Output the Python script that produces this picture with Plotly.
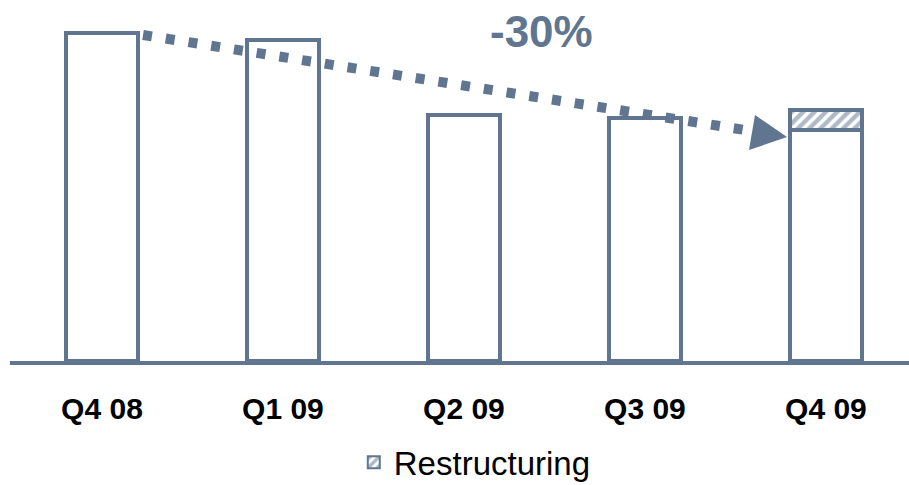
import plotly.graph_objects as go

# Quarterly values (index, Q4 08 = 100)
quarters = ["Q4 08", "Q1 09", "Q2 09", "Q3 09", "Q4 09"]
base_values = [100.0, 97.9, 75.0, 74.0, 70.4]
restructuring_values = [0, 0, 0, 0, 6.1]
change_label = "-30%"

SLATE = "#5f7590"
FONT = "Liberation Sans, Arial, sans-serif"

x = list(range(len(quarters)))

fig = go.Figure()
fig.add_trace(go.Bar(
    x=x, y=base_values, width=0.4, showlegend=False,
    marker=dict(color="white", line=dict(color=SLATE, width=4)),
))
fig.add_trace(go.Bar(
    x=x, y=restructuring_values, width=0.4, name="Restructuring",
    marker=dict(
        color="white", line=dict(color=SLATE, width=4),
        pattern=dict(shape="/", fgcolor=SLATE, bgcolor="white", size=8, solidity=0.55),
    ),
))

# Dotted trend arrow from the first quarter to the last
start = (0.227, base_values[0] - 0.6)
end = (3.59, 70.1)
fig.add_shape(type="line", x0=start[0], y0=start[1], x1=end[0], y1=end[1],
              line=dict(color=SLATE, width=10, dash="9px,14px"), layer="above")
fig.add_shape(type="path", layer="above", fillcolor=SLATE, line=dict(width=0),
              path="M 3.608,75.0 L 3.785,68.3 L 3.575,64.3 Z")

fig.add_annotation(x=2.43, y=100.6, text=f"<b>{change_label}</b>", showarrow=False,
                   font=dict(size=44, color=SLATE, family=FONT))

fig.update_layout(
    width=909, height=485,
    margin=dict(l=10, r=0, t=0, b=124),
    paper_bgcolor="white", plot_bgcolor="white",
    barmode="stack", bargap=0,
    font=dict(family=FONT, color="black"),
    legend=dict(orientation="h", x=0.517, xanchor="center",
                yref="container", y=0.047, yanchor="middle",
                font=dict(size=33, color="black"), itemsizing="constant"),
    xaxis=dict(range=[-0.508, 4.459], tickmode="array", tickvals=x, ticktext=quarters,
               showline=True, linecolor=SLATE, linewidth=4, showgrid=False, zeroline=False,
               ticks="", tickfont=dict(size=30, weight="bold", color="black"),
               ticklabelstandoff=18),
    yaxis=dict(range=[0, 110.06], visible=False, showgrid=False, zeroline=False),
)

fig.write_html("out.html")
